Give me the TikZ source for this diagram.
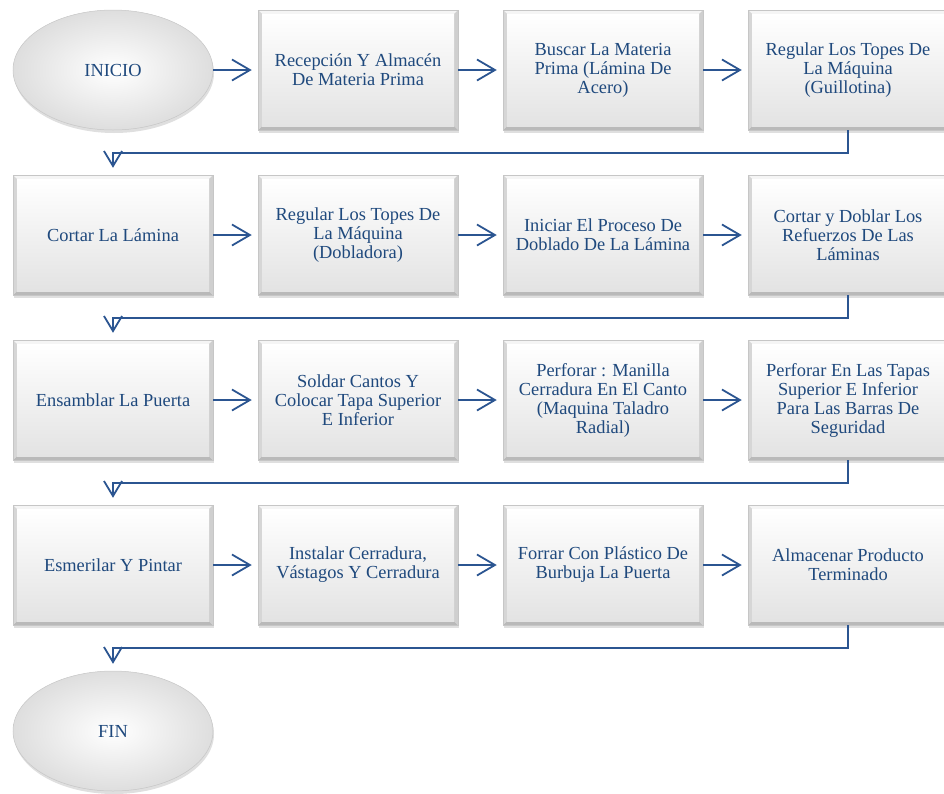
\documentclass[tikz,border=0pt]{standalone}
\usepackage{fontspec}
\setmainfont{Liberation Serif}
\usetikzlibrary{shapes.geometric,shadows,arrows.meta}
\definecolor{txt}{HTML}{1F497D}
\definecolor{lin}{HTML}{2B5591}
\tikzset{
  bevelbox/.style={rectangle, minimum width=200pt, minimum height=120pt, inner sep=0pt,
    align=center, text=txt, font=\fontsize{18.4}{19}\selectfont, draw=gray!45, line width=0.5pt,
    drop shadow={shadow xshift=1pt, shadow yshift=-3pt, opacity=0.25, fill=gray},
    path picture={
      \path (path picture bounding box.north west) coordinate (ppNW)
            (path picture bounding box.north east) coordinate (ppNE)
            (path picture bounding box.south west) coordinate (ppSW)
            (path picture bounding box.south east) coordinate (ppSE);
      \fill[gray!8] (ppNW) -- (ppNE) -- ([xshift=-4pt,yshift=-4pt]ppNE) -- ([xshift=4pt,yshift=-4pt]ppNW) -- cycle;
      \fill[gray!55] (ppSW) -- (ppSE) -- ([xshift=-4pt,yshift=4pt]ppSE) -- ([xshift=4pt,yshift=4pt]ppSW) -- cycle;
      \fill[gray!32] (ppNW) -- ([xshift=4pt,yshift=-4pt]ppNW) -- ([xshift=4pt,yshift=4pt]ppSW) -- (ppSW) -- cycle;
      \fill[gray!38] (ppNE) -- ([xshift=-4pt,yshift=-4pt]ppNE) -- ([xshift=-4pt,yshift=4pt]ppSE) -- (ppSE) -- cycle;
      \shade[top color=white, bottom color=gray!22] ([xshift=4pt,yshift=-4pt]ppNW) rectangle ([xshift=-4pt,yshift=4pt]ppSE);
    }},
  termell/.style={ellipse, minimum width=200pt, minimum height=120pt, inner sep=0pt,
    text=txt, font=\fontsize{18.4}{19}\selectfont, draw=gray!45, line width=0.5pt,
    shading=radial, inner color=white, outer color=gray!26,
    drop shadow={shadow xshift=1pt, shadow yshift=-3pt, opacity=0.25, fill=gray}},
  harr/.style={draw=lin, line width=1.8pt, -{Straight Barb[length=18pt,width=21pt,line width=1.8pt]}, shorten >=6pt},
  varr/.style={draw=lin, line width=1.8pt, -{Straight Barb[length=15pt,width=18pt,line width=1.8pt]}}
}
\begin{document}
\begin{tikzpicture}[x=1pt,y=-1pt]
\useasboundingbox (0,0) rectangle (944,793);
% row 1
\node[termell] (ini) at (113,70) {INICIO};
\node[bevelbox] (a2) at (358,70) {Recepción Y Almacén\\De Materia Prima};
\node[bevelbox] (a3) at (603,70) {Buscar La Materia\\Prima (Lámina De\\Acero)};
\node[bevelbox] (a4) at (848,70) {Regular Los Topes De\\La Máquina\\(Guillotina)};
% row 2
\node[bevelbox] (b1) at (113,235) {Cortar La Lámina};
\node[bevelbox] (b2) at (358,235) {Regular Los Topes De\\La Máquina\\(Dobladora)};
\node[bevelbox] (b3) at (603,235) {Iniciar El Proceso De\\Doblado De La Lámina};
\node[bevelbox] (b4) at (848,235) {Cortar y Doblar Los\\Refuerzos De Las\\Láminas};
% row 3
\node[bevelbox] (c1) at (113,400) {Ensamblar La Puerta};
\node[bevelbox] (c2) at (358,400) {Soldar Cantos Y\\Colocar Tapa Superior\\E Inferior};
\node[bevelbox] (c3) at (603,400) {Perforar : Manilla\\Cerradura En El Canto\\(Maquina Taladro\\Radial)};
\node[bevelbox] (c4) at (848,400) {Perforar En Las Tapas\\Superior E Inferior\\Para Las Barras De\\Seguridad};
% row 4
\node[bevelbox] (d1) at (113,565) {Esmerilar Y Pintar};
\node[bevelbox] (d2) at (358,565) {Instalar Cerradura,\\Vástagos Y Cerradura};
\node[bevelbox] (d3) at (603,565) {Forrar Con Plástico De\\Burbuja La Puerta};
\node[bevelbox] (d4) at (848,565) {Almacenar Producto\\Terminado};
% end
\node[termell] (fin) at (113,731) {FIN};
% horizontal arrows
\draw[harr] (ini) -- (a2);
\draw[harr] (a2) -- (a3);
\draw[harr] (a3) -- (a4);
\draw[harr] (b1) -- (b2);
\draw[harr] (b2) -- (b3);
\draw[harr] (b3) -- (b4);
\draw[harr] (c1) -- (c2);
\draw[harr] (c2) -- (c3);
\draw[harr] (c3) -- (c4);
\draw[harr] (d1) -- (d2);
\draw[harr] (d2) -- (d3);
\draw[harr] (d3) -- (d4);
% row connectors
\draw[varr] (a4.south) -- ++(0,23) -| ([yshift=7pt]b1.north);
\draw[varr] (b4.south) -- ++(0,23) -| ([yshift=7pt]c1.north);
\draw[varr] (c4.south) -- ++(0,23) -| ([yshift=7pt]d1.north);
\draw[varr] (d4.south) -- ++(0,23) -| ([yshift=7pt]fin.north);
\end{tikzpicture}
\end{document}
